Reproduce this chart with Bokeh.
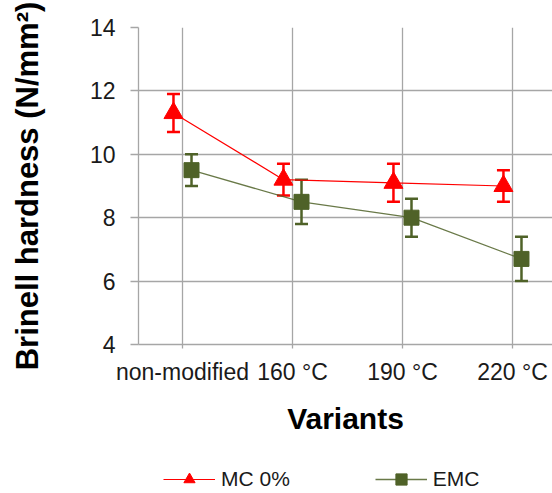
from bokeh.plotting import figure
from bokeh.layouts import column
from bokeh.models import (ColumnDataSource, Whisker, TeeHead, Legend, LegendItem,
                          FixedTicker, Range1d)
from bokeh.transform import dodge
from bokeh.embed import file_html
from bokeh.resources import INLINE

# ---- data ----
categories = ["non-modified", "160 °C", "190 °C", "220 °C"]
mc0_mean = [11.3, 9.2, 9.1, 9.0]
mc0_err = [0.6, 0.5, 0.6, 0.5]
emc_mean = [9.5, 8.5, 8.0, 6.7]
emc_err = [0.5, 0.7, 0.6, 0.7]
y_ticks = [4, 6, 8, 10, 12, 14]

xpos = list(range(1, len(categories) + 1))

src_mc = ColumnDataSource(dict(
    x=xpos, y=mc0_mean,
    upper=[m + e for m, e in zip(mc0_mean, mc0_err)],
    lower=[m - e for m, e in zip(mc0_mean, mc0_err)]))
src_emc = ColumnDataSource(dict(
    x=xpos, y=emc_mean,
    upper=[m + e for m, e in zip(emc_mean, emc_err)],
    lower=[m - e for m, e in zip(emc_mean, emc_err)]))

FONT = "Liberation Sans"
GRID = "#A6A6A6"
RED = "#FF0000"
GREEN = "#4F6228"
OFF = 0.082

p = figure(frame_width=414, frame_height=317, output_backend="svg", toolbar_location=None,
           x_range=Range1d(0.6, 4.364), y_range=Range1d(4, 14),
           min_border_left=138, min_border_top=27, min_border_right=0,
           min_border_bottom=105)
p.outline_line_color = None
p.background_fill_color = "white"

# axes
p.xaxis.ticker = FixedTicker(ticks=xpos)
p.xaxis.major_label_overrides = {x: c for x, c in zip(xpos, categories)}
p.yaxis.ticker = FixedTicker(ticks=y_ticks)
for ax in (p.xaxis, p.yaxis):
    ax.axis_line_color = GRID
    ax.axis_line_width = 1.3
    ax.major_tick_line_color = GRID
    ax.major_tick_line_width = 1.3
    ax.major_tick_in = 0
    ax.minor_tick_line_color = None
    ax.major_label_text_font = FONT
    ax.major_label_text_font_size = "23px"
    ax.major_label_text_color = "#1a1a1a"
    ax.axis_label_text_font = FONT
    ax.axis_label_text_font_style = "bold"
    ax.axis_label_text_font_size = "30px"
    ax.axis_label_text_color = "#000000"
p.yaxis.axis_label_text_font_size = "31px"
p.xaxis.major_tick_out = 4
p.yaxis.major_tick_out = 8
p.xaxis.major_label_standoff = 10
p.yaxis.major_label_standoff = 15
p.xaxis.axis_label = "Variants"
p.yaxis.axis_label = "Brinell hardness (N/mm²)"
p.xaxis.axis_label_standoff = 14
p.yaxis.axis_label_standoff = 42

p.grid.grid_line_color = GRID
p.grid.grid_line_width = 1.3

# series
l1 = p.line(dodge("x", -OFF, range=p.x_range), "y", source=src_mc,
            line_color=RED, line_width=1.2)
p.add_layout(Whisker(base=dodge("x", -OFF, range=p.x_range), upper="upper", lower="lower",
                     source=src_mc, line_color=RED, line_width=2.5,
                     upper_head=TeeHead(size=13, line_color=RED, line_width=2.5),
                     lower_head=TeeHead(size=13, line_color=RED, line_width=2.5)))
m1 = p.scatter(dodge("x", -OFF, range=p.x_range), "y", source=src_mc, marker="triangle",
               size=19, fill_color=RED, line_color=RED)

l2 = p.line(dodge("x", OFF, range=p.x_range), "y", source=src_emc,
            line_color=GREEN, line_width=1.3, line_alpha=0.85)
p.add_layout(Whisker(base=dodge("x", OFF, range=p.x_range), upper="upper", lower="lower",
                     source=src_emc, line_color=GREEN, line_width=2.5,
                     upper_head=TeeHead(size=13, line_color=GREEN, line_width=2.5),
                     lower_head=TeeHead(size=13, line_color=GREEN, line_width=2.5)))
m2 = p.scatter(dodge("x", OFF, range=p.x_range), "y", source=src_emc, marker="square",
               size=15, fill_color=GREEN, line_color=GREEN)

# ---- legend strip below the chart ----
q = figure(width=552, height=44, output_backend="svg", toolbar_location=None,
           x_axis_location=None, y_axis_location=None,
           x_range=Range1d(-10, -9), y_range=Range1d(0, 1),
           min_border_left=0, min_border_right=0, min_border_top=0, min_border_bottom=0)
q.outline_line_color = None
q.grid.visible = False
ql1 = q.line("x", "y", source=src_mc, line_color=RED, line_width=1.2)
qm1 = q.scatter("x", "y", source=src_mc, marker="triangle", fill_color=RED, line_color=RED)
ql2 = q.line("x", "y", source=src_emc, line_color=GREEN, line_width=1.3, line_alpha=0.85)
qm2 = q.scatter("x", "y", source=src_emc, marker="square", fill_color=GREEN, line_color=GREEN)

legend = Legend(items=[LegendItem(label="MC 0%", renderers=[ql1, qm1]),
                       LegendItem(label="EMC", renderers=[ql2, qm2])],
                orientation="horizontal", location=(25, 0),
                glyph_width=52, glyph_height=28, label_standoff=6, spacing=85,
                label_text_font=FONT, label_text_font_size="21px",
                label_text_color="#1a1a1a",
                border_line_color=None, background_fill_alpha=0,
                padding=0, margin=0)
q.add_layout(legend, "center")

open("out.html", "w").write(file_html(column(p, q, spacing=0), INLINE))
